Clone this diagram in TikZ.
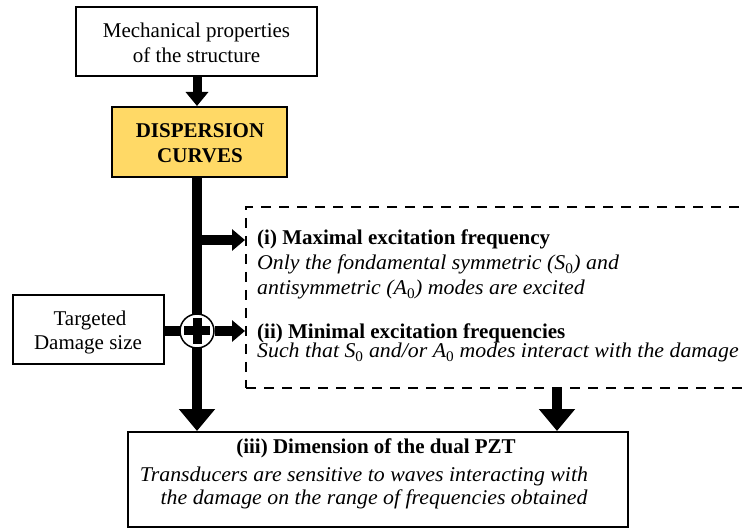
\documentclass[tikz,border=0pt]{standalone}
\usepackage{fontspec}
\setmainfont{Liberation Serif}
\newfontfamily\itf[FakeStretch=1.04]{Liberation Serif}
\usetikzlibrary{arrows.meta,calc}
\definecolor{gold}{HTML}{FFD966}
\newcommand{\zsub}[1]{\textsubscript{\upshape #1}}
\begin{document}
\begin{tikzpicture}[x=1pt,y=-1pt,
  box/.style={draw, line width=2pt, rectangle, inner sep=0pt},
  lbl/.style={inner sep=0pt, anchor=base, font=\fontsize{21}{25}\selectfont},
  lblw/.style={lbl, anchor=base west},
  hdtxt/.style={font=\fontsize{21}{25}\selectfont\bfseries},
  ittxt/.style={font=\fontsize{21}{25}\selectfont\itf\itshape},
  shaft/.style={line width=10pt},
  bigarrow/.style={line width=10pt, -{Triangle[width=35pt,length=22pt]}},
  medarrow/.style={line width=10pt, -{Triangle[width=21pt,length=13pt]}},
  smallarrow/.style={line width=9pt, -{Triangle[width=22pt,length=14pt]}},
]
\useasboundingbox (0,0) rectangle (742,529);
\clip (0,0) rectangle (742,529);

% boxes
\node[box, minimum width=241pt, minimum height=69pt] (mech) at (196.5,41.5) {};
\node[box, fill=gold, minimum width=175pt, minimum height=70pt] (disp) at (199.5,142) {};
\node[box, minimum width=151pt, minimum height=69pt] (tgt) at (88.5,329.5) {};
\node[box, dash pattern=on 10pt off 8pt, minimum width=534pt, minimum height=181pt] (cond) at (513,297.5) {};
\node[box, minimum width=500pt, minimum height=95pt] (dim) at (378,479.5) {};

\coordinate (pc) at (197,331);
\coordinate (b1) at (197,240);
\coordinate (c3) at (557,400);

% connectors
\draw[smallarrow] (mech.south -| pc) -- (disp.north -| pc);
\draw[bigarrow] (disp.south -| pc) -- (dim.north -| pc);
\draw[shaft] (tgt.east |- pc) -- (pc);
\draw[medarrow] (b1) -- (b1 -| cond.west);
\node[circle, draw, fill=white, line width=1.5pt, minimum size=34pt, inner sep=0pt] (plus) at (pc) {};
\draw[line width=9pt] ($(plus)+(0,-13)$) -- ($(plus)+(0,13)$);
\draw[line width=9pt] ($(plus)+(-13,0)$) -- ($(plus)+(13,0)$);
\draw[medarrow] (plus.east) -- (plus.east -| cond.west);
\draw[bigarrow] (cond.south -| c3) -- (dim.north -| c3);

% texts
\node[lbl] (t1a) at (196.5,38) {Mechanical properties};
\node[lbl] (t1b) at (196.5,63) {of the structure};
\node[lbl, hdtxt] (t2a) at (200,138) {DISPERSION};
\node[lbl, hdtxt] (t2b) at (200,163) {CURVES};
\node[lbl] (t3a) at (90,326) {Targeted};
\node[lbl] (t3b) at (88,350) {Damage size};
\node[lblw, hdtxt] (i1) at (257,245) {(i) Maximal excitation frequency};
\node[lblw, ittxt] (i2) at (257,270) {Only the fondamental symmetric (S\zsub{0}) and};
\node[lblw, ittxt] (i3) at (257,295) {antisymmetric (A\zsub{0}) modes are excited};
\node[lblw, hdtxt] (ii1) at (257,339) {(ii) Minimal excitation frequencies};
\node[lblw, ittxt] (ii2) at (257,358) {Such that S\zsub{0} and/or A\zsub{0} modes interact with the damage};
\node[lbl, hdtxt] (iii1) at (376,453) {(iii) Dimension of the dual PZT};
\node[lbl, ittxt] (iii2) at (364,481) {Transducers are sensitive to waves interacting with};
\node[lbl, ittxt] (iii3) at (374,504) {the damage on the range of frequencies obtained};
\end{tikzpicture}
\end{document}
